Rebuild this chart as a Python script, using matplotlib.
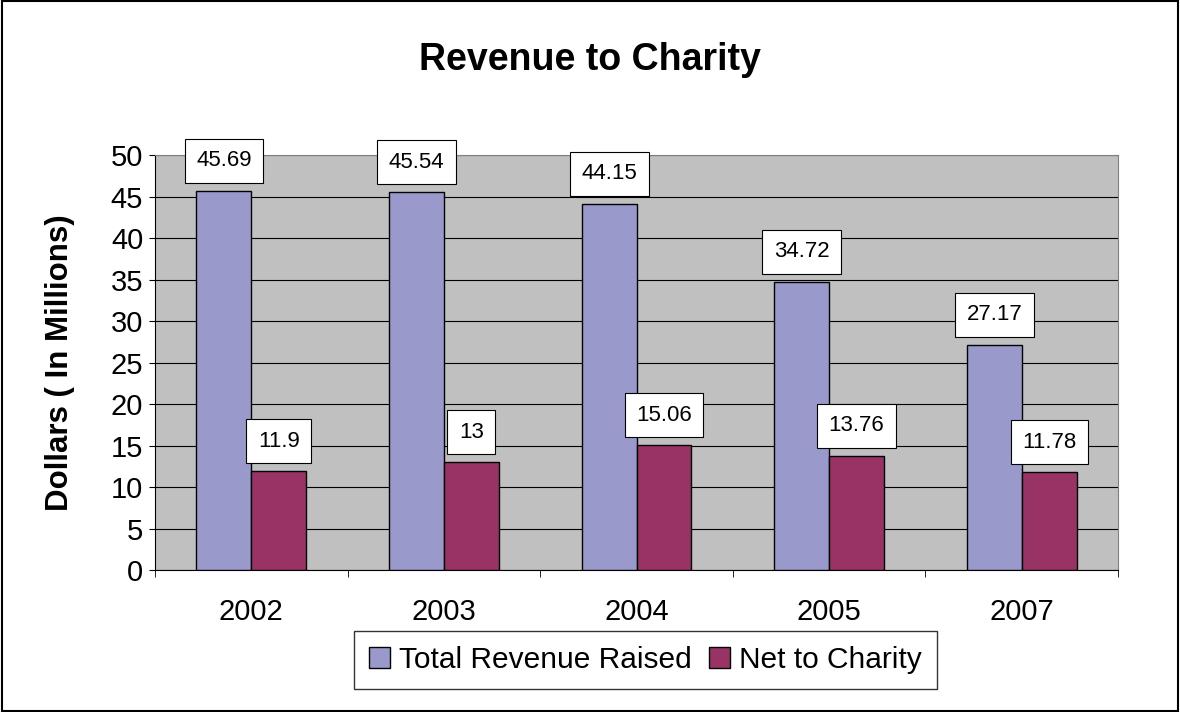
import numpy as np
import matplotlib.pyplot as plt
from matplotlib.patches import Rectangle

years = ["2002", "2003", "2004", "2005", "2007"]
total_revenue = [45.69, 45.54, 44.15, 34.72, 27.17]
net_to_charity = [11.9, 13, 15.06, 13.76, 11.78]
total_labels = ["45.69", "45.54", "44.15", "34.72", "27.17"]
net_labels = ["11.9", "13", "15.06", "13.76", "11.78"]

plt.rcParams['font.family'] = ['Liberation Sans', 'DejaVu Sans']
fig = plt.figure(figsize=(11.8, 7.12), dpi=100)

# outer frame of the chart
fig.patches.append(Rectangle((0.002, 0.002), 0.996, 0.996, transform=fig.transFigure,
                             fill=False, edgecolor='black', linewidth=1.5))

ax = fig.add_axes([0.1314, 0.1994, 0.8161, 0.5829])
ax.set_facecolor('#C0C0C0')

x = np.arange(len(years))
w = 0.285
b1 = ax.bar(x - w / 2, total_revenue, w, color='#9999CC', edgecolor='black', linewidth=1,
            label='Total Revenue Raised', zorder=3)
b2 = ax.bar(x + w / 2, net_to_charity, w, color='#993366', edgecolor='black', linewidth=1,
            label='Net to Charity', zorder=3)

box = dict(boxstyle='square,pad=0.52', facecolor='white', edgecolor='black', linewidth=0.8)
for bars, labels in [(b1, total_labels), (b2, net_labels)]:
    for rect, lab in zip(bars, labels):
        ax.annotate(lab, (rect.get_x() + rect.get_width() / 2, rect.get_height()),
                    xytext=(0, 14), textcoords='offset points', ha='center', va='bottom',
                    fontsize=16, bbox=box, zorder=5)

ax.set_xlim(-0.5, len(years) - 0.5)
ax.set_ylim(0, 50)
ax.set_yticks(np.arange(0, 51, 5))
ax.yaxis.grid(True, color='black', linewidth=0.8, zorder=0)
ax.set_axisbelow(True)
ax.tick_params(axis='y', labelsize=21, length=4.5, pad=4, direction='out')

# category labels centred, tick marks between categories
ax.set_xticks(x)
ax.set_xticklabels(years)
ax.set_xticks(np.arange(-0.5, len(years)), minor=True)
ax.tick_params(axis='x', which='major', length=0, labelsize=21, pad=20)
ax.tick_params(axis='x', which='minor', length=5, direction='out')

for s in ['top', 'right']:
    ax.spines[s].set_color('#808080')
for s in ['left', 'bottom']:
    ax.spines[s].set_color('black')

ax.set_ylabel('Dollars ( In Millions)', fontsize=22.5, fontweight='bold', labelpad=26)
fig.text(0.5, 0.916, 'Revenue to Charity', ha='center', va='center', fontsize=27, fontweight='bold')

leg = fig.legend(handles=[b1, b2], loc='center', bbox_to_anchor=(0.547, 0.073), ncol=2,
                 fontsize=21.5, frameon=True, fancybox=False, edgecolor='black',
                 handlelength=0.7, handleheight=0.7, handletextpad=0.3, columnspacing=0.6,
                 borderpad=0.5)
leg.get_frame().set_linewidth(1)

fig.savefig('out.png', dpi=100)
